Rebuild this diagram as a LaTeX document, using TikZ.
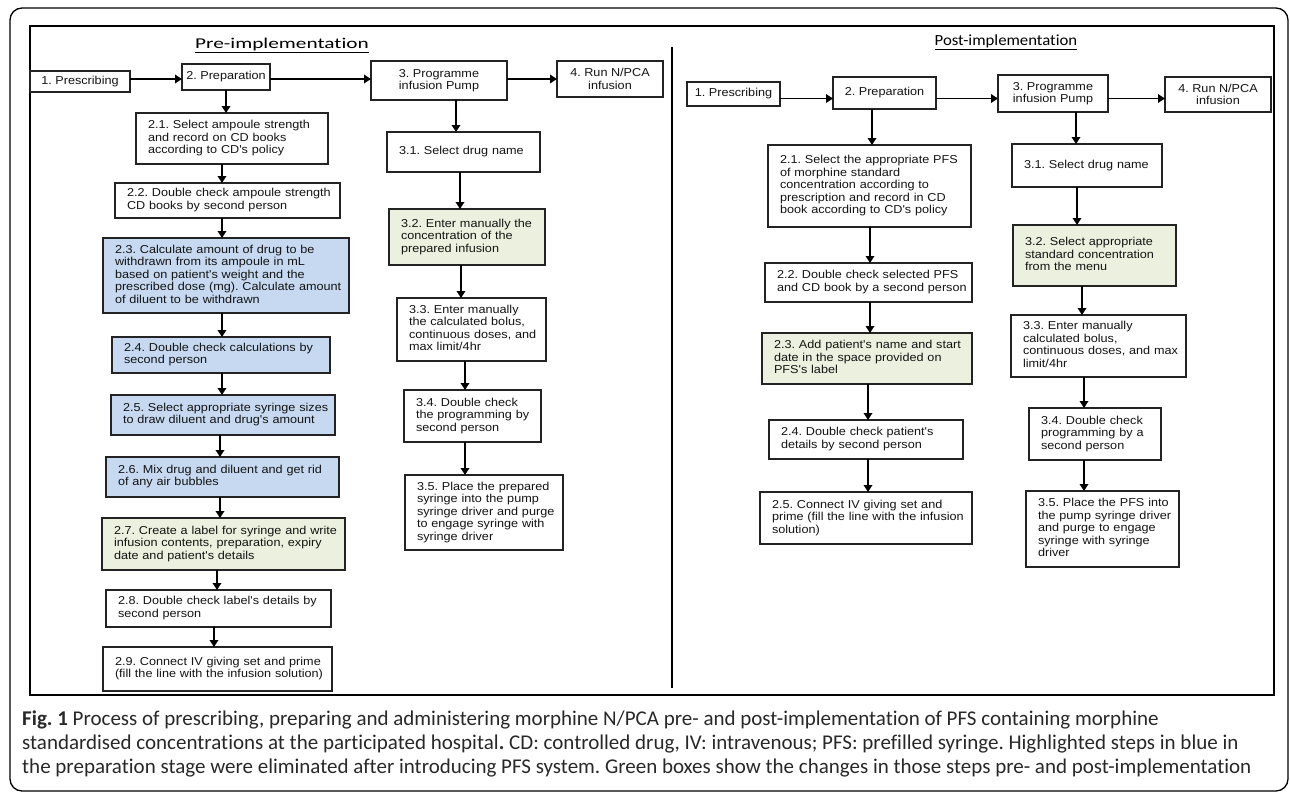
\documentclass[tikz,border=0pt]{standalone}
\usepackage{fontspec}
\setmainfont{Liberation Sans}
\newfontfamily\boxfont[FakeStretch=1.1]{Liberation Sans}
\newfontfamily\capfont[Ligatures=NoCommon]{Carlito}
\newfontfamily\prefont[FakeStretch=1.42,Ligatures=NoCommon]{Carlito}
\newfontfamily\postfont[FakeStretch=1.08,Ligatures=NoCommon]{Carlito}
\usetikzlibrary{arrows.meta}
\frenchspacing
\definecolor{bluefill}{RGB}{198,217,240}
\definecolor{greenfill}{RGB}{235,241,222}
\definecolor{edgecol}{RGB}{35,35,35}
\definecolor{captext}{RGB}{40,40,40}
\tikzset{
  stepbox/.style={draw=edgecol, line width=1.3pt, fill=white, inner xsep=12pt, inner ysep=0pt,
    outer sep=0pt, font=\boxfont\fontsize{11.5}{12.5}\selectfont, align=left, text=black!92},
  bluebox/.style={stepbox, fill=bluefill, line width=2pt},
  greenbox/.style={stepbox, fill=greenfill, line width=1.6pt},
  headbox/.style={stepbox, inner xsep=2pt, align=center},
  arr/.style={line width=1.9pt, draw=black, -{Triangle[length=7pt,width=8.5pt]}},
}
% style, name, x1, y1, x2, y2, lines
\newcommand\mybox[7]{%
  \pgfmathsetmacro\bw{#5-#3}\pgfmathsetmacro\bh{#6-#4}%
  \pgfmathsetmacro\bcx{(#3+#5)/2}\pgfmathsetmacro\bcy{(#4+#6)/2}%
  \pgfmathsetmacro\tw{#5-#3-24}%
  \node[#1, minimum width=\bw pt, minimum height=\bh pt, text width=\tw pt] (#2) at (\bcx,\bcy)
    {\begin{tabular}{@{}l@{}}#7\end{tabular}};}
\newcommand\headnode[6]{%
  \pgfmathsetmacro\bw{#4-#2}\pgfmathsetmacro\bh{#5-#3}%
  \pgfmathsetmacro\bcx{(#2+#4)/2}\pgfmathsetmacro\bcy{(#3+#5)/2}%
  \node[headbox, minimum width=\bw pt, minimum height=\bh pt] (#1) at (\bcx,\bcy) {#6};}
\begin{document}
\begin{tikzpicture}[x=1pt,y=-1pt]
\useasboundingbox (0,0) rectangle (1290,793);
% frames
\draw[line width=1.3pt, rounded corners=12pt] (10,8) rectangle (1288,791);
\draw[line width=1.2pt] (30,26) rectangle (1274,695);
\draw[line width=2.5pt] (672,47) -- (672,688);
% titles
\node[font=\prefont\fontsize{15}{18}\selectfont] (pretitle) at (282,45) {\underline{Pre-implementation}};
\node[font=\postfont\fontsize{15.5}{18}\selectfont] (posttitle) at (1006,42) {\underline{Post-implementation}};

% ---------------- Pre-implementation ----------------
\headnode{b1}{30}{71}{130}{92}{1. Prescribing}
\headnode{b2}{182}{64}{270}{90}{2. Preparation}
\headnode{b3}{371}{61}{507}{100}{3. Programme\\infusion Pump}
\headnode{b4}{557}{61}{663}{97}{4. Run N/PCA\\infusion}

\mybox{stepbox}{a21}{136}{113}{328}{164}{2.1. Select ampoule strength\\and record on CD books\\according to CD's policy}
\mybox{stepbox}{a22}{115}{183}{340}{218}{2.2. Double check ampoule strength\\CD books by second person}
\mybox{bluebox}{a23}{103}{238}{349}{313}{2.3. Calculate amount of drug to be\\withdrawn from its ampoule in mL\\based on patient's weight and the\\prescribed dose (mg). Calculate amount\\of diluent to be withdrawn}
\mybox{bluebox}{a24}{112}{337}{330}{373}{2.4. Double check calculations by\\second person}
\mybox{bluebox}{a25}{111}{395}{335}{435}{2.5. Select appropriate syringe sizes\\to draw diluent and drug's amount}
\mybox{bluebox}{a26}{106}{457}{339}{497}{2.6. Mix drug and diluent and get rid\\of any air bubbles}
\mybox{greenbox}{a27}{102}{518}{345}{570}{2.7. Create a label for syringe and write\\infusion contents, preparation, expiry\\date and patient's details}
\mybox{stepbox}{a28}{106}{590}{331}{627}{2.8. Double check label's details by\\second person}
\mybox{stepbox}{a29}{103}{647}{332}{691}{2.9. Connect IV giving set and prime\\(fill the line with the infusion solution)}

\mybox{stepbox}{a31}{387}{132}{540}{172}{3.1. Select drug name}
\mybox{greenbox}{a32}{389}{209}{545}{265}{3.2. Enter manually the\\concentration of the\\prepared infusion}
\mybox{stepbox}{a33}{397}{298}{546}{361}{3.3. Enter manually\\the calculated bolus,\\continuous doses, and\\max limit/4hr}
\mybox{stepbox}{a34}{404}{390}{541}{442}{3.4. Double check\\the programming by\\second person}
\mybox{stepbox}{a35}{405}{475}{563}{550}{3.5. Place the prepared\\syringe into the pump\\syringe driver and purge\\to engage syringe with\\syringe driver}

% ---------------- Post-implementation ----------------
\headnode{p1}{687}{82}{780}{106}{1. Prescribing}
\headnode{p2}{833}{77}{936}{109}{2. Preparation}
\headnode{p3}{998}{75}{1108}{112}{3. Programme\\infusion Pump}
\headnode{p4}{1165}{77}{1271}{112}{4. Run N/PCA\\infusion}

\mybox{stepbox}{q21}{768}{145}{971}{227}{2.1. Select the appropriate PFS\\of morphine standard\\concentration according to\\prescription and record in CD\\book according to CD's policy}
\mybox{stepbox}{q22}{765}{263}{972}{302}{2.2. Double check selected PFS\\and CD book by a second person}
\mybox{greenbox}{q23}{762}{333}{972}{384}{2.3. Add patient's name and start\\date in the space provided on\\PFS's label}
\mybox{stepbox}{q24}{769}{420}{963}{459}{2.4. Double check patient's\\details by second person}
\mybox{stepbox}{q25}{760}{492}{972}{544}{2.5. Connect IV giving set and\\prime (fill the line with the infusion\\solution)}

\mybox{stepbox}{q31}{1012}{144}{1162}{187}{3.1. Select drug name}
\mybox{greenbox}{q32}{1013}{225}{1176}{286}{3.2. Select appropriate\\standard concentration\\from the menu}
\mybox{stepbox}{q33}{1011}{315}{1186}{377}{3.3. Enter manually\\calculated bolus,\\continuous doses, and max\\limit/4hr}
\mybox{stepbox}{q34}{1029}{408}{1161}{460}{3.4. Double check\\programming by a\\second person}
\mybox{stepbox}{q35}{1026}{491}{1179}{567}{3.5. Place the PFS into\\the pump syringe driver\\and purge to engage\\syringe with syringe\\driver}

% ---------------- connectors ----------------
\coordinate (ya) at (0,79);
\coordinate (yb) at (0,98.5);
\draw[arr] (b1.east |- ya) -- (b2.west |- ya);
\draw[arr] (b2.east |- ya) -- (b3.west |- ya);
\draw[arr] (b3.east |- ya) -- (b4.west |- ya);
\draw[arr] (p1.east |- yb) -- (p2.west |- yb);
\draw[arr] (p2.east |- yb) -- (p3.west |- yb);
\draw[arr] (p3.east |- yb) -- (p4.west |- yb);

\coordinate (xa0) at (226,0);
\coordinate (xa1) at (222,0);
\coordinate (xa2) at (220,0);
\coordinate (xa3) at (217,0);
\coordinate (xa4) at (214,0);
\draw[arr] (b2.south -| xa0) -- (a21.north -| xa0);
\draw[arr] (a21.south -| xa1) -- (a22.north -| xa1);
\draw[arr] (a22.south -| xa1) -- (a23.north -| xa1);
\draw[arr] (a23.south -| xa1) -- (a24.north -| xa1);
\draw[arr] (a24.south -| xa1) -- (a25.north -| xa1);
\draw[arr] (a25.south -| xa2) -- (a26.north -| xa2);
\draw[arr] (a26.south -| xa2) -- (a27.north -| xa2);
\draw[arr] (a27.south -| xa3) -- (a28.north -| xa3);
\draw[arr] (a28.south -| xa4) -- (a29.north -| xa4);

\coordinate (xb0) at (456,0);
\coordinate (xb1) at (460,0);
\coordinate (xb2) at (461,0);
\coordinate (xb3) at (465,0);
\draw[arr] (b3.south -| xb0) -- (a31.north -| xb0);
\draw[arr] (a31.south -| xb1) -- (a32.north -| xb1);
\draw[arr] (a32.south -| xb2) -- (a33.north -| xb2);
\draw[arr] (a33.south -| xb3) -- (a34.north -| xb3);
\draw[arr] (a34.south -| xb3) -- (a35.north -| xb3);

\coordinate (xc0) at (872,0);
\coordinate (xc1) at (870,0);
\coordinate (xc2) at (868,0);
\draw[arr] (p2.south -| xc0) -- (q21.north -| xc0);
\draw[arr] (q21.south -| xc1) -- (q22.north -| xc1);
\draw[arr] (q22.south -| xc1) -- (q23.north -| xc1);
\draw[arr] (q23.south -| xc2) -- (q24.north -| xc2);
\draw[arr] (q24.south -| xc2) -- (q25.north -| xc2);

\coordinate (xd0) at (1076,0);
\coordinate (xd1) at (1077,0);
\coordinate (xd2) at (1082,0);
\coordinate (xd3) at (1084,0);
\draw[arr] (p3.south -| xd0) -- (q31.north -| xd0);
\draw[arr] (q31.south -| xd1) -- (q32.north -| xd1);
\draw[arr] (q32.south -| xd2) -- (q33.north -| xd2);
\draw[arr] (q33.south -| xd3) -- (q34.north -| xd3);
\draw[arr] (q34.south -| xd3) -- (q35.north -| xd3);

% ---------------- caption ----------------
\node[anchor=north west, inner sep=0pt, align=left, text=captext,
      font=\capfont\fontsize{21}{24}\selectfont] (caption) at (22,711)
  {\textbf{Fig. 1} Process of prescribing, preparing and administering morphine N/PCA pre- and post-implementation of PFS containing morphine\\
   standardised concentrations at the participated hospital\textbf{.} CD: controlled drug, IV: intravenous; PFS: prefilled syringe. Highlighted steps in blue in\\
   the preparation stage were eliminated after introducing PFS system. Green boxes show the changes in those steps pre- and post-implementation};
\end{tikzpicture}
\end{document}
